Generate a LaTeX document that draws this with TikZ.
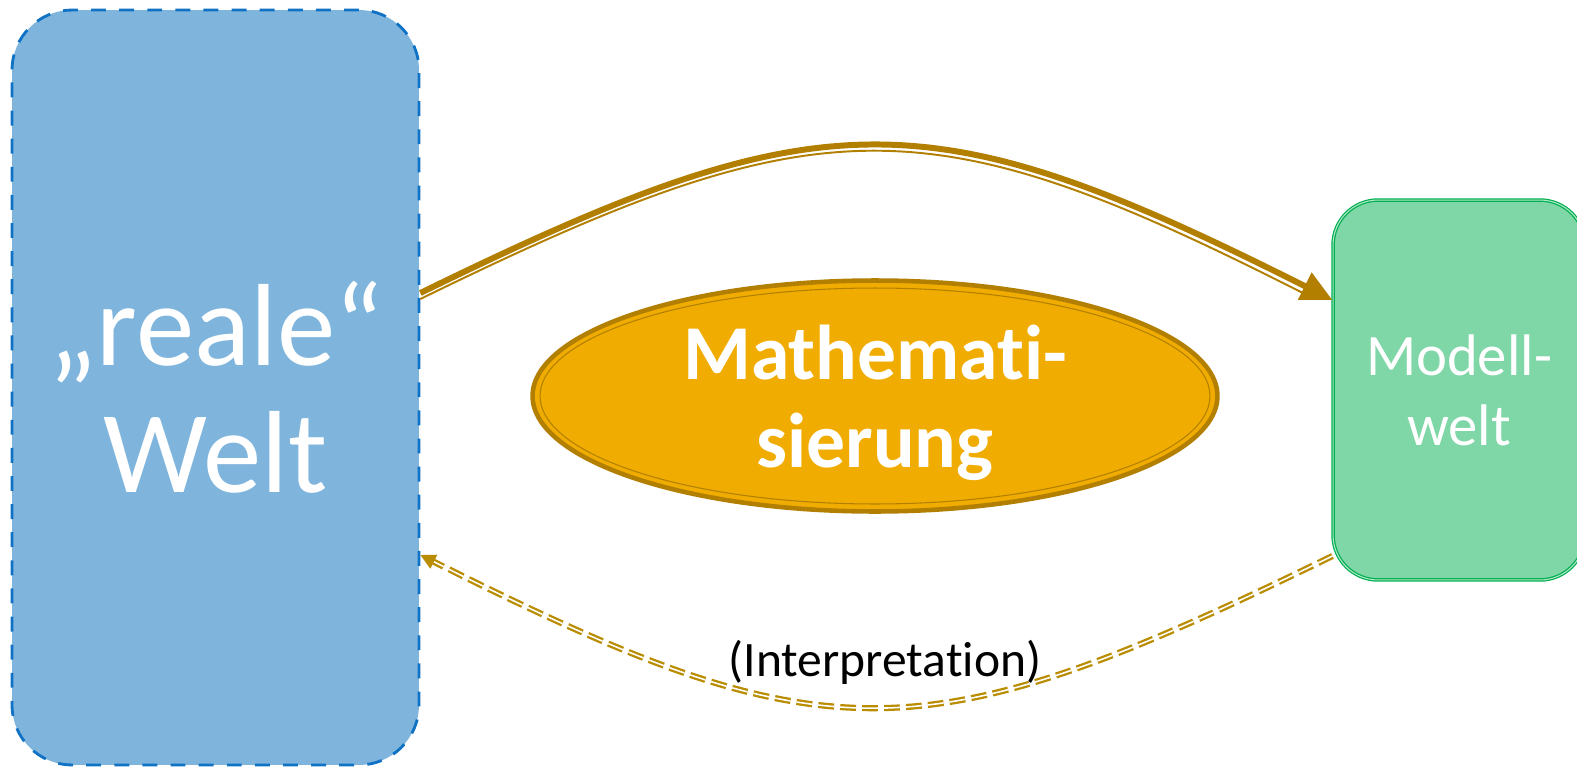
\documentclass[tikz,border=0pt]{standalone}
\usepackage{fontspec}
\setmainfont{Carlito}[Ligatures=NoCommon]
\usetikzlibrary{arrows.meta,shapes.geometric,calc}
\definecolor{weltblue}{RGB}{127,181,221}
\definecolor{weltline}{RGB}{16,114,196}
\definecolor{modellgreen}{RGB}{127,214,166}
\definecolor{modellline}{RGB}{0,176,80}
\definecolor{mathgold}{RGB}{240,172,0}
\definecolor{mathline}{RGB}{178,127,0}
\tikzset{
  weltbox/.style={rectangle, rounded corners=1.2cm, fill=weltblue, draw=weltline,
    line width=1.6pt, dash pattern=on 8.5pt off 7.5pt, text=white, align=center,
    minimum width=8.14cm, minimum height=15.1cm, inner sep=0pt},
  modellbox/.style={rectangle, rounded corners=0.9cm, fill=modellgreen, draw=modellline,
    line width=0.7pt, double=modellgreen!60!white, double distance=0.6pt, text=white,
    align=center, minimum width=5.04cm, minimum height=7.6cm, inner sep=0pt},
  mathoval/.style={ellipse, fill=mathgold, draw=mathline, line width=2.6pt, text=white,
    align=center, minimum width=13.7cm, minimum height=4.62cm, inner sep=0pt},
  hinpfeil/.style={mathline, line width=3.4pt},
  rueckpfeil/.style={mathline!90!yellow, line width=1.3pt, double=white, double distance=0.9pt,
    dash pattern=on 9pt off 3.5pt}
}
\begin{document}
\begin{tikzpicture}[x=0.02cm,y=-0.02cm]
  \useasboundingbox (0,0) rectangle (1577,767);

  \node[weltbox, font=\fontsize{66.5}{72.6}\selectfont] (welt) at (215.5,387.5)
    {„reale“\\Welt};
  \node[modellbox, font=\fontsize{33.4}{39.7}\selectfont] (modell) at (1459,390)
    {Modell-\\welt};
  \node[mathoval, font=\fontsize{44.2}{50}\selectfont\bfseries, text depth=0pt] (math) at (875,396)
    {Mathemati-\\sierung};
  \draw[mathline, line width=0.6pt] (math.center) ellipse [x radius=6.7cm, y radius=2.16cm];

  \draw[hinpfeil, -{Triangle[length=0.62cm, width=0.58cm]}]
    ($(welt.east)+(0,-94.5)$) .. controls (823,96) and (927,96) .. ($(modell.west)+(0,-90)$);
  \draw[mathline, line width=1.1pt, shorten >=0.5cm]
    ($(welt.east)+(0,-88.5)$) .. controls (823,102) and (927,102) .. ($(modell.west)+(-4,-84)$);

  \draw[rueckpfeil, -{Triangle[length=0.3cm, width=0.3cm]}]
    ($(modell.west)+(0,166)$) .. controls (920,758) and (826,758) .. ($(welt.east)+(0,167.5)$);
  \node[font=\fontsize{28.2}{34}\selectfont] (interp) at (885,662) {(Interpretation)};
\end{tikzpicture}
\end{document}
